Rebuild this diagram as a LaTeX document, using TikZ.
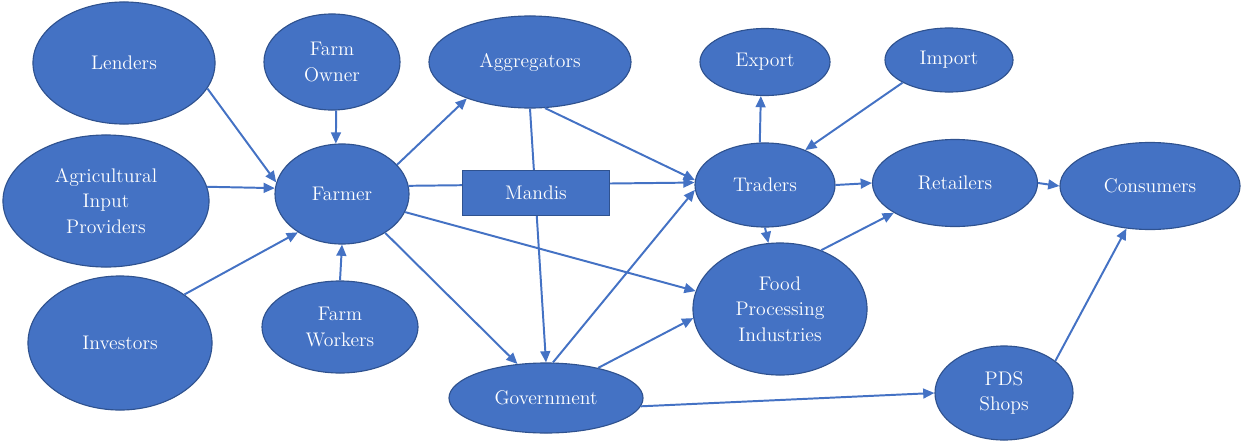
\documentclass[tikz,border=0pt]{standalone}
\usetikzlibrary{arrows.meta,shapes.geometric}

\definecolor{actorblue}{HTML}{4472C4}
\definecolor{actorline}{HTML}{2F528F}

\begin{document}
\begin{tikzpicture}[x=0.025cm, y=-0.025cm,
    actor/.style={ellipse, fill=actorblue, draw=actorline, line width=0.8pt, inner sep=0pt,
        text=white, align=center, font=\fontsize{14}{18}\selectfont},
    market/.style={rectangle, fill=actorblue, draw=actorline, line width=0.8pt, inner sep=0pt,
        text=white, font=\fontsize{14}{18}\selectfont},
    flow/.style={draw=actorblue, line width=1.4pt, -{Triangle[length=8pt, width=7pt]}}]

    \useasboundingbox (0,0) rectangle (1242,441);

    \node[actor, minimum width=4.55cm, minimum height=3.05cm] (lenders) at (124,63) {Lenders};
    \node[actor, minimum width=3.4cm, minimum height=2.4cm] (owner) at (332,62) {Farm\\Owner};
    \node[actor, minimum width=5.15cm, minimum height=3.3cm] (inputs) at (106,201) {Agricultural\\Input\\Providers};
    \node[actor, minimum width=3.35cm, minimum height=2.5cm] (farmer) at (342,194) {Farmer};
    \node[actor, minimum width=4.6cm, minimum height=3.35cm] (investors) at (120,343) {Investors};
    \node[actor, minimum width=3.9cm, minimum height=2.3cm] (workers) at (340,327) {Farm\\Workers};
    \node[actor, minimum width=5.05cm, minimum height=2.3cm] (aggregators) at (530,62) {Aggregators};
    \node[actor, minimum width=3.25cm, minimum height=1.675cm] (export) at (765,62) {Export};
    \node[actor, minimum width=3.5cm, minimum height=2.1cm] (traders) at (765,185) {Traders};
    \node[actor, minimum width=4.35cm, minimum height=3.3cm] (industries) at (780,309) {Food\\Processing\\Industries};
    \node[actor, minimum width=4.85cm, minimum height=1.75cm] (government) at (546,398) {Government};
    \node[actor, minimum width=3.2cm, minimum height=1.6cm] (import) at (949,60) {Import};
    \node[actor, minimum width=4.125cm, minimum height=2.175cm] (retailers) at (955,183) {Retailers};
    \node[actor, minimum width=4.5cm, minimum height=2.175cm] (consumers) at (1150,186) {Consumers};
    \node[actor, minimum width=3.45cm, minimum height=2.35cm] (pds) at (1004,393) {PDS\\Shops};

    \draw[flow] (lenders.-17) -- (farmer.170);
    \draw[flow] (owner.-85) -- (farmer.97);
    \draw[flow] (inputs.8) -- (farmer.175);
    \draw[flow] (investors.37) -- (farmer.221);
    \draw[flow] (workers.north) -- (farmer.south);

    \draw[flow] (farmer.28) -- (aggregators.210);
    \draw[flow] (farmer.7) -- (traders.178);
    \draw[flow] (farmer.-16) -- (industries.168);
    \draw[flow] (farmer.-42) -- (government.130);

    \draw[flow] (aggregators.south) -- (government.north);
    \draw[flow] (aggregators.-72) -- (traders.176);

    \draw[flow] (government.79) -- (traders.184);
    \draw[flow] (government.30) -- (industries.186);
    \draw[flow] (government.-5) -- (pds.west);

    \draw[flow] (traders.97) -- (export.-97);
    \draw[flow] (import.206) -- (traders.41);
    \draw[flow] (traders.east) -- (retailers.west);
    \draw[flow] (traders.south) -- (industries.100);
    \draw[flow] (industries.55) -- (retailers.206);
    \draw[flow] (retailers.east) -- (consumers.west);
    \draw[flow] (pds.32) -- (consumers.-119);

    \node[market, minimum width=3.675cm, minimum height=1.125cm] (mandis) at (536,193) {Mandis};

\end{tikzpicture}
\end{document}
